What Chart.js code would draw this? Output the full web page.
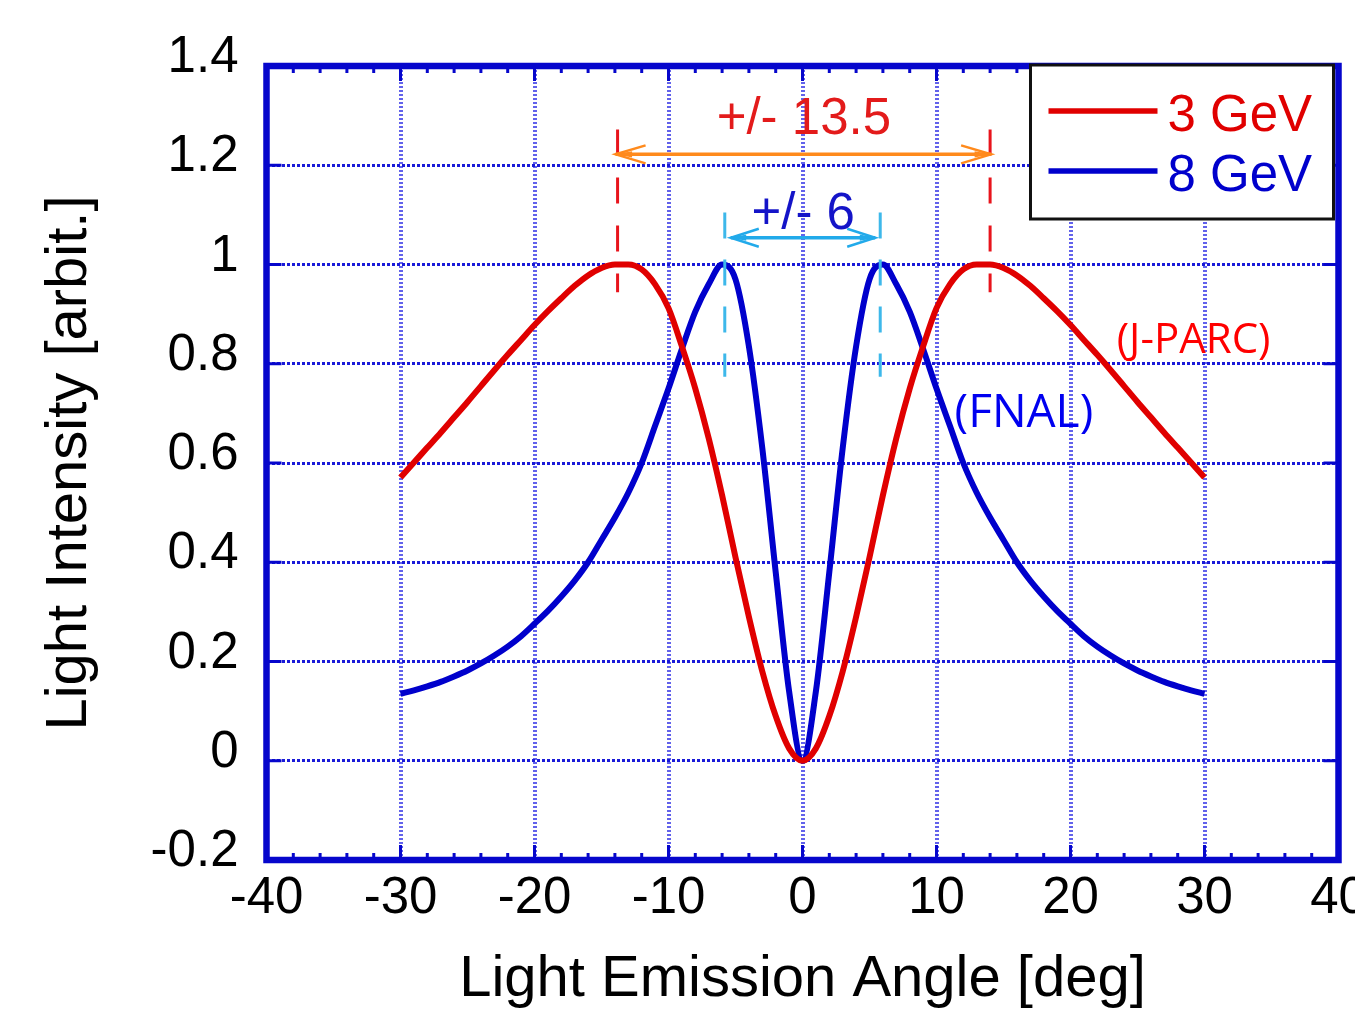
<!DOCTYPE html>
<html>
<head>
<meta charset="utf-8">
<script src="https://cdn.jsdelivr.net/npm/chart.js@4.4.1/dist/chart.umd.min.js"></script>
<style>
  html, body { margin: 0; padding: 0; background: #ffffff; }
  canvas { display: block; }
</style>
</head>
<body>
<canvas id="chart" width="1355" height="1015"></canvas>
<script>
// ---------------- data ----------------
const angles = [
  -30, -29, -28, -27, -26, -25, -24, -23, -22, -21,
  -20, -19, -18, -17, -16, -15, -14, -13, -12, -11,
  -10, -9, -8, -7, -6, -5, -4, -3, -2, -1,
  0, 1, 2, 3, 4, 5, 6, 7, 8, 9,
  10, 11, 12, 13, 14, 15, 16, 17, 18, 19,
  20, 21, 22, 23, 24, 25, 26, 27, 28, 29, 30
];
const intensity3GeV = [
  0.571, 0.601, 0.631, 0.661, 0.692, 0.723, 0.755, 0.787, 0.818, 0.848,
  0.878, 0.906, 0.932, 0.957, 0.978, 0.993, 1.000, 1.000, 0.990, 0.960,
  0.912, 0.835, 0.750, 0.650, 0.535, 0.410, 0.290, 0.180, 0.090, 0.025,
  0.000, 0.025, 0.090, 0.180, 0.290, 0.410, 0.535, 0.650, 0.750, 0.835,
  0.912, 0.960, 0.990, 1.000, 1.000, 0.993, 0.978, 0.957, 0.932, 0.906,
  0.878, 0.848, 0.818, 0.787, 0.755, 0.723, 0.692, 0.661, 0.631, 0.601, 0.571
];
const intensity8GeV = [
  0.135, 0.142, 0.150, 0.159, 0.170, 0.182, 0.196, 0.212, 0.230, 0.251,
  0.276, 0.302, 0.331, 0.363, 0.400, 0.445, 0.490, 0.540, 0.600, 0.675,
  0.750, 0.830, 0.905, 0.960, 1.000, 0.970, 0.835, 0.630, 0.380, 0.140,
  0.000, 0.140, 0.380, 0.630, 0.835, 0.970, 1.000, 0.960, 0.905, 0.830,
  0.750, 0.675, 0.600, 0.540, 0.490, 0.445, 0.400, 0.363, 0.331, 0.302,
  0.276, 0.251, 0.230, 0.212, 0.196, 0.182, 0.170, 0.159, 0.150, 0.142, 0.135
];
const seriesLabels = ['3 GeV', '8 GeV'];
const xTickLabels = ['-40', '-30', '-20', '-10', '0', '10', '20', '30', '40'];
const yTickLabels = ['-0.2', '0', '0.2', '0.4', '0.6', '0.8', '1', '1.2', '1.4'];
const xTitle = 'Light Emission Angle [deg]';
const yTitle = 'Light Intensity [arbit.]';
const peakAngles3GeV = [-13.8, 14.0];
const peakAngles8GeV = [-5.8, 5.8];
const spreadLabels = ['+/- 13.5', '+/- 6'];
const facilityLabels = ['(J-PARC)', '(FNAL)'];

// ---------------- styles ----------------
const FONT = "'Liberation Sans', Arial, Helvetica, sans-serif";
const RED = '#e00000';
const BLUE = '#0000cc';
const FRAME = '#0606cc';

const toXY = (xs, ys) => xs.map((a, i) => ({ x: a, y: ys[i] }));

function strokeLine(ctx, x1, y1, x2, y2) {
  ctx.beginPath(); ctx.moveTo(x1, y1); ctx.lineTo(x2, y2); ctx.stroke();
}
function arrowHead(ctx, tipX, tipY, dir, len, spread) {
  ctx.beginPath();
  ctx.moveTo(tipX - dir * len, tipY - spread);
  ctx.lineTo(tipX, tipY);
  ctx.lineTo(tipX - dir * len, tipY + spread);
  ctx.stroke();
  ctx.beginPath();
  ctx.moveTo(tipX, tipY);
  ctx.lineTo(tipX - dir * len * 0.55, tipY - spread * 0.35);
  ctx.lineTo(tipX - dir * len * 0.55, tipY + spread * 0.35);
  ctx.closePath();
  ctx.fill();
}

const decorPlugin = {
  id: 'decor',
  afterDatasetsDraw(chart) {
    const { ctx, chartArea: a, scales: { x, y } } = chart;
    const X = v => x.getPixelForValue(v);
    const Y = v => y.getPixelForValue(v);
    ctx.save();

    // inward tick marks
    ctx.strokeStyle = FRAME;
    ctx.lineWidth = 3;
    ctx.setLineDash([]);
    for (let v = x.min; v <= x.max + 1e-9; v += 2) {
      const px = X(v);
      const major = Math.abs(Math.round(v) % 10) === 0;
      const len = major ? 15 : 7;
      strokeLine(ctx, px, a.bottom, px, a.bottom - len);
      strokeLine(ctx, px, a.top, px, a.top + len);
    }
    y.ticks.forEach(t => {
      const py = Y(t.value);
      strokeLine(ctx, a.left, py, a.left + 15, py);
      strokeLine(ctx, a.right, py, a.right - 15, py);
    });

    // frame
    ctx.lineWidth = 6.5;
    ctx.strokeRect(a.left, a.top, a.right - a.left, a.bottom - a.top);

    // red dashed markers at 3 GeV peaks
    ctx.strokeStyle = '#e8141c';
    ctx.lineWidth = 3;
    ctx.setLineDash([26, 22]);
    peakAngles3GeV.forEach(v => strokeLine(ctx, X(v), Y(1.272), X(v), Y(0.944)));

    // cyan dashed markers at 8 GeV peaks
    ctx.strokeStyle = '#3db8ea';
    ctx.setLineDash([26, 21]);
    peakAngles8GeV.forEach(v => strokeLine(ctx, X(v), Y(1.105), X(v), Y(0.774)));
    ctx.setLineDash([]);

    // orange double arrow
    ctx.strokeStyle = '#ff8a1c';
    ctx.fillStyle = '#ff8a1c';
    ctx.lineWidth = 3.5;
    const yo = Y(1.222);
    const xl = X(peakAngles3GeV[0]) - 2, xr = X(peakAngles3GeV[1]) + 1;
    strokeLine(ctx, xl, yo, xr, yo);
    ctx.lineWidth = 2.5;
    arrowHead(ctx, xl, yo, -1, 30, 9);
    arrowHead(ctx, xr, yo, 1, 30, 9);

    // cyan double arrow
    ctx.strokeStyle = '#22aaea';
    ctx.fillStyle = '#22aaea';
    ctx.lineWidth = 3.5;
    const yc = Y(1.054);
    const cl = X(peakAngles8GeV[0]) + 6, cr = X(peakAngles8GeV[1]) - 5;
    strokeLine(ctx, cl, yc, cr, yc);
    ctx.lineWidth = 2.5;
    arrowHead(ctx, cl, yc, -1, 28, 9);
    arrowHead(ctx, cr, yc, 1, 28, 9);

    // spread labels
    ctx.textAlign = 'center';
    ctx.textBaseline = 'alphabetic';
    ctx.font = `51px ${FONT}`;
    ctx.fillStyle = '#e31b1b';
    ctx.fillText(spreadLabels[0], X(0.1), Y(1.262));
    ctx.fillStyle = '#1414c8';
    ctx.fillText(spreadLabels[1], X(0.05), Y(1.071));

    // facility labels
    ctx.textAlign = 'left';
    ctx.font = "42px 'Open Sans', 'Noto Sans', sans-serif";
    ctx.fillStyle = '#ff0000';
    ctx.fillText(facilityLabels[0], X(23.45), Y(0.822));
    ctx.font = "46px 'Open Sans', 'Noto Sans', sans-serif";
    ctx.fillStyle = '#0000f0';
    ctx.fillText(facilityLabels[1], X(11.35), Y(0.673));

    // legend box
    const lx = a.right - 308, ly = a.top - 1, lw = 303, lh = 154;
    ctx.fillStyle = '#ffffff';
    ctx.fillRect(lx, ly, lw, lh);
    ctx.strokeStyle = '#111111';
    ctx.lineWidth = 3;
    ctx.strokeRect(lx, ly, lw, lh);
    ctx.font = `51px ${FONT}`;
    chart.data.datasets.forEach((ds, i) => {
      const rowY = ly + 46 + i * 60;
      ctx.strokeStyle = ds.borderColor;
      ctx.lineWidth = 5.5;
      strokeLine(ctx, lx + 18, rowY, lx + 127, rowY);
      ctx.fillStyle = ds.borderColor;
      ctx.fillText(ds.label, lx + 137, rowY + 20);
    });

    ctx.restore();
  }
};

new Chart(document.getElementById('chart'), {
  type: 'line',
  data: {
    datasets: [
      {
        label: seriesLabels[0],
        data: toXY(angles, intensity3GeV),
        borderColor: RED,
        borderWidth: 6,
        pointRadius: 0,
        fill: false,
        cubicInterpolationMode: 'monotone'
      },
      {
        label: seriesLabels[1],
        data: toXY(angles, intensity8GeV),
        borderColor: BLUE,
        borderWidth: 6,
        pointRadius: 0,
        fill: false,
        cubicInterpolationMode: 'monotone'
      }
    ]
  },
  options: {
    responsive: false,
    animation: false,
    devicePixelRatio: 1,
    layout: { padding: { left: 0, top: 66, right: 16.5, bottom: 0 } },
    plugins: { legend: { display: false }, tooltip: { enabled: false } },
    scales: {
      x: {
        type: 'linear',
        min: -40,
        max: 40,
        ticks: {
          stepSize: 10,
          autoSkip: false,
          maxRotation: 0,
          color: '#000000',
          padding: 8,
          font: { family: FONT, size: 51 },
          callback: (v, i) => xTickLabels[i]
        },
        grid: { color: 'rgba(70,70,232,0.85)', lineWidth: 4, drawTicks: false },
        border: { display: false, dash: [2, 2] },
        title: {
          display: true,
          text: xTitle,
          color: '#000000',
          font: { family: FONT, size: 58 },
          padding: { top: 0, bottom: 0 }
        },
        afterFit: s => { s.height = 155; s.paddingLeft = 0; s.paddingRight = 0; }
      },
      y: {
        type: 'linear',
        min: -0.2,
        max: 1.4,
        ticks: {
          stepSize: 0.2,
          autoSkip: false,
          color: '#000000',
          padding: 28,
          labelOffset: -8,
          font: { family: FONT, size: 51 },
          callback: (v, i) => yTickLabels[i]
        },
        grid: { color: '#1a1ad8', lineWidth: 3, drawTicks: false },
        border: { display: false, dash: [3, 2] },
        title: {
          display: true,
          text: yTitle,
          color: '#000000',
          font: { family: FONT, size: 58 },
          padding: { top: 35, bottom: 0 }
        },
        afterFit: s => { s.width = 266.5; }
      }
    }
  },
  plugins: [decorPlugin]
});
</script>
</body>
</html>
